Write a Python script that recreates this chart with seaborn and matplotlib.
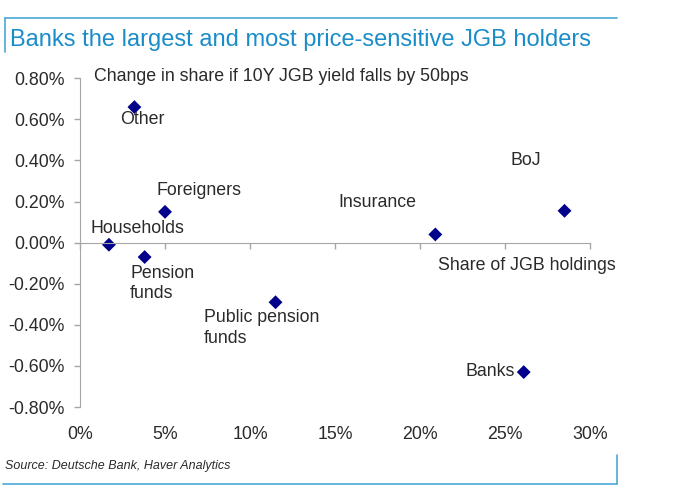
import matplotlib
matplotlib.use('Agg')
import matplotlib.pyplot as plt
import pandas as pd
import seaborn as sns
from matplotlib.lines import Line2D

# Holders of JGBs: share of holdings (%) vs change in share if 10Y yield falls 50bps (%)
holders = ['Other', 'Foreigners', 'Households', 'Pension funds', 'Public pension funds',
           'Insurance', 'BoJ', 'Banks']
share = [3.2, 5.0, 1.7, 3.8, 11.5, 20.9, 28.5, 26.1]
change = [0.66, 0.15, -0.01, -0.07, -0.29, 0.04, 0.155, -0.63]

# label text and where it sits (data coords, left / centre anchored)
label_text = ['Other', 'Foreigners', 'Households', 'Pension\nfunds', 'Public pension\nfunds',
              'Insurance', 'BoJ', 'Banks']
label_x = [2.35, 4.5, 0.6, 2.95, 7.3, 15.2, 25.3, 22.7]
label_y = [0.60, 0.255, 0.068, -0.20, -0.415, 0.195, 0.40, -0.627]

yticks = [-0.8, -0.6, -0.4, -0.2, 0.0, 0.2, 0.4, 0.6, 0.8]
xticks = [0, 5, 10, 15, 20, 25, 30]

df = pd.DataFrame({'holder': holders, 'share': share, 'change': change})

sns.set_style('white')
plt.rcParams['font.family'] = ['Liberation Sans', 'DejaVu Sans']

fig = plt.figure(figsize=(6.73, 4.96), dpi=100)
ax = fig.add_axes([0.1189, 0.1794, 0.7578, 0.6627])

sns.scatterplot(data=df, x='share', y='change', marker='D', color='#00008B',
                s=50, edgecolor='none', ax=ax, legend=False)

ax.set_xlim(0, 30)
ax.set_ylim(-0.8, 0.8)
ax.set_xlabel('')
ax.set_ylabel('')

grey = '#a6a6a6'
txt = '#2a2a2a'
for side in ['top', 'right']:
    ax.spines[side].set_visible(False)
ax.spines['left'].set_color(grey)
ax.spines['bottom'].set_color(grey)
ax.spines['bottom'].set_position(('data', 0))

ax.set_yticks(yticks)
ax.set_yticklabels([f'{v:.2f}%' for v in yticks])
ax.set_xticks(xticks)
ax.tick_params(axis='y', left=True, length=4, width=1, color=grey, labelsize=12.8,
               labelcolor=txt, pad=7)
ax.tick_params(axis='x', bottom=True, length=4, width=1, color=grey, direction='out',
               labelbottom=False)

# x tick labels sit at the bottom of the plot, not on the zero line
sec = ax.secondary_xaxis('bottom')
sec.set_xticks(xticks)
sec.set_xticklabels([f'{v}%' for v in xticks])
sec.spines['bottom'].set_visible(False)
sec.tick_params(length=0, pad=14, labelsize=12.8, labelcolor=txt)

for t, x, y in zip(label_text, label_x, label_y):
    ax.text(x, y, t, ha='left', va='center', fontsize=12.8, color=txt, linespacing=1.25)

ax.text(0.8, 0.807, 'Change in share if 10Y JGB yield falls by 50bps', ha='left', va='center',
        fontsize=12.8, color=txt)
ax.text(21.05, -0.112, 'Share of JGB holdings', ha='left', va='center',
        fontsize=12.8, color=txt)

# title and frame lines
fig.text(0.015, 0.919, 'Banks the largest and most price-sensitive JGB holders',
         fontsize=17, color='#1a8cc8', ha='left', va='center')
frame = '#4aa8d4'
fig.add_artist(Line2D([0.008, 0.917], [0.964, 0.964], color=frame, lw=1.2))
fig.add_artist(Line2D([0.008, 0.008], [0.964, 0.895], color=frame, lw=1.2))
fig.add_artist(Line2D([0.004, 0.917], [0.024, 0.024], color=frame, lw=1.2))
fig.add_artist(Line2D([0.917, 0.917], [0.024, 0.083], color=frame, lw=1.2))

fig.text(0.008, 0.061, 'Source: Deutsche Bank, Haver Analytics', fontsize=9,
         style='italic', color=txt, ha='left', va='center')

fig.savefig('out.png', dpi=100)
